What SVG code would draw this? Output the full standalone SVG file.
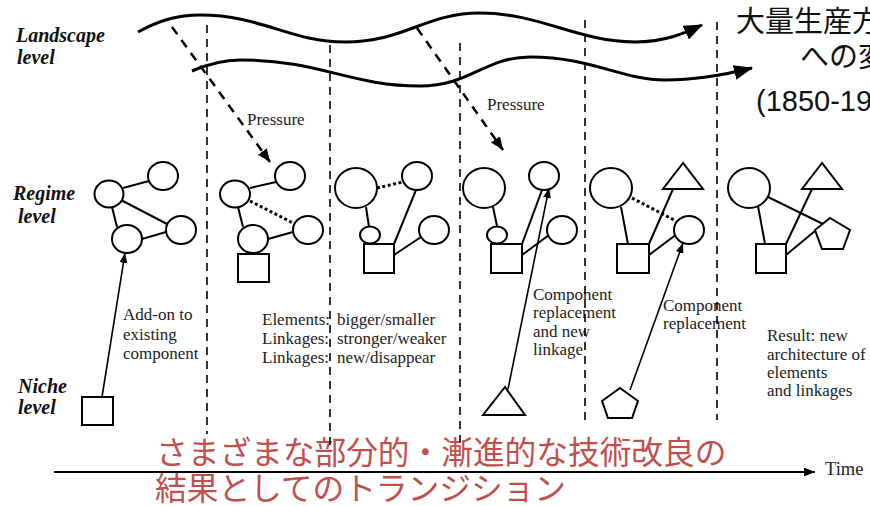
<svg xmlns="http://www.w3.org/2000/svg" width="870" height="506" viewBox="0 0 870 506">
<defs>
<marker id="wavehead" markerUnits="userSpaceOnUse" markerWidth="20" markerHeight="16" refX="18" refY="7.5" orient="auto"><path d="M0,0 L19,7.5 L0,15 z" fill="#000"/></marker>
<marker id="dashhead" markerUnits="userSpaceOnUse" markerWidth="14" markerHeight="12" refX="13" refY="5.5" orient="auto"><path d="M0,0 L13,5.5 L0,11 z" fill="#000"/></marker>
<marker id="smallhead" markerUnits="userSpaceOnUse" markerWidth="11" markerHeight="9" refX="10" refY="4" orient="auto"><path d="M0,0 L10,4 L0,8 z" fill="#000"/></marker>
<marker id="timehead" markerUnits="userSpaceOnUse" markerWidth="12" markerHeight="10" refX="11" refY="4.5" orient="auto"><path d="M0,0 L11,4.5 L0,9 z" fill="#000"/></marker>
</defs>
<style>
.lvl{font-family:"Liberation Serif",serif;font-weight:bold;font-style:italic;font-size:20px;fill:#111}
.lbl{font-family:"Liberation Serif",serif;font-size:17px;fill:#222}
.jp{font-family:"Noto Sans CJK JP",sans-serif;font-size:29px;fill:#111}
.num{font-family:"Liberation Sans","Noto Sans CJK JP",sans-serif;font-size:29px;fill:#111}
.red{font-family:"Noto Sans CJK JP",sans-serif;font-size:31.7px;fill:#c0504d}
.shape{fill:#fff;stroke:#000;stroke-width:2}
.link{stroke:#000;stroke-width:2;fill:none}
.dot{stroke:#000;stroke-width:3;stroke-dasharray:3,2.5;fill:none}
.wave{stroke:#000;stroke-width:3;fill:none}
.press{stroke:#000;stroke-width:2.5;stroke-dasharray:9,7;fill:none}
.vdash{stroke:#000;stroke-width:1.6;stroke-dasharray:8,6;fill:none}
.narrow{stroke:#000;stroke-width:1.6;fill:none}
</style>
<rect width="870" height="506" fill="#fff"/>

<g id="texts">
<text class="lvl" x="16" y="42">Landscape</text>
<text class="lvl" x="17" y="64">level</text>
<text class="lvl" x="13" y="200">Regime</text>
<text class="lvl" x="18" y="223">level</text>
<text class="lvl" x="18" y="393">Niche</text>
<text class="lvl" x="18" y="414">level</text>

<text class="lbl" x="247" y="125">Pressure</text>
<text class="lbl" x="487" y="110">Pressure</text>

<text class="lbl" x="123" y="320">Add-on to</text>
<text class="lbl" x="123" y="340">existing</text>
<text class="lbl" x="123" y="359">component</text>

<text class="lbl" x="262" y="325">Elements:<tspan x="337">bigger/smaller</tspan></text>
<text class="lbl" x="262" y="344">Linkages:<tspan x="337">stronger/weaker</tspan></text>
<text class="lbl" x="262" y="363">Linkages:<tspan x="337">new/disappear</tspan></text>

<text class="lbl" x="533" y="300">Component</text>
<text class="lbl" x="533" y="318">replacement</text>
<text class="lbl" x="533" y="337">and new</text>
<text class="lbl" x="533" y="355">linkage</text>

<text class="lbl" x="663" y="311">Component</text>
<text class="lbl" x="663" y="329">replacement</text>

<text class="lbl" x="767" y="341">Result: new</text>
<text class="lbl" x="767" y="360">architecture of</text>
<text class="lbl" x="767" y="378">elements</text>
<text class="lbl" x="767" y="396">and linkages</text>

<text class="lbl" x="825" y="475" style="font-size:18.5px">Time</text>

<text class="jp" x="736" y="32">大量生産方</text>
<text class="jp" x="800" y="67">への変</text>
<text class="num" x="756" y="111">(1850-19</text>

<text class="red" x="156" y="464">さまざまな部分的・漸進的な技術改良の</text>
<text class="red" x="155" y="500">結果としてのトランジション</text>
</g>

<g id="connectors">
<path class="wave" marker-end="url(#wavehead)" d="M138,32 C160,20 178,15 200,15 C262,15 290,42 345,42 C405,42 425,13 480,13 C540,13 578,42 635,42 C665,42 685,33 702,25"/>
<path class="wave" marker-end="url(#wavehead)" d="M192,71 C206,65 222,60 240,60 C320,60 350,86 420,86 C470,86 485,57 530,57 C592,57 622,80 665,80 C700,80 728,74 752,68"/>

<line class="press" x1="172" y1="27" x2="270" y2="162" marker-end="url(#dashhead)"/>
<line class="press" x1="417" y1="28" x2="503" y2="150" marker-end="url(#dashhead)"/>

<line class="vdash" x1="207" y1="25" x2="207" y2="434"/>
<line class="vdash" x1="330" y1="45" x2="330" y2="447"/>
<line class="vdash" x1="460" y1="43" x2="460" y2="442"/>
<line class="vdash" x1="585" y1="20" x2="585" y2="420"/>
<line class="vdash" x1="717" y1="22" x2="717" y2="420"/>

<line class="link" x1="54" y1="472" x2="815" y2="472" marker-end="url(#timehead)"/>

<!-- config 1 -->
<line class="link" x1="123" y1="188" x2="149" y2="181"/>
<line class="link" x1="121" y1="200" x2="167" y2="224"/>
<line class="link" x1="112" y1="207" x2="117" y2="227"/>
<line class="link" x1="142" y1="239" x2="166" y2="232"/>
<line class="narrow" x1="102" y1="397" x2="125" y2="253" marker-end="url(#smallhead)"/>
<!-- config 2 -->
<line class="link" x1="250" y1="188" x2="276" y2="182"/>
<line class="dot" x1="250" y1="201" x2="293" y2="223"/>
<line class="link" x1="238" y1="207" x2="243" y2="227"/>
<line class="link" x1="268" y1="239" x2="293" y2="232"/>
<!-- config 3 -->
<line class="dot" x1="377" y1="188" x2="403" y2="182"/>
<line class="link" x1="366" y1="207" x2="369" y2="227"/>
<line class="link" x1="394" y1="244" x2="416" y2="190"/>
<line class="link" x1="394" y1="255" x2="421" y2="237"/>
<!-- config 4 -->
<line class="link" x1="493" y1="207" x2="497" y2="226"/>
<line class="link" x1="522" y1="244" x2="542" y2="190"/>
<line class="link" x1="522" y1="255" x2="549" y2="235"/>
<line class="narrow" x1="508" y1="389" x2="549" y2="188" marker-end="url(#smallhead)"/>
<!-- config 5 -->
<line class="link" x1="621" y1="207" x2="628" y2="244"/>
<line class="dot" x1="632" y1="198" x2="676" y2="221"/>
<line class="link" x1="649" y1="244" x2="673" y2="189"/>
<line class="link" x1="649" y1="255" x2="677" y2="234"/>
<line class="narrow" x1="630" y1="390" x2="683" y2="243" marker-end="url(#smallhead)"/>
<!-- config 6 -->
<line class="link" x1="758" y1="206" x2="765" y2="244"/>
<line class="link" x1="768" y1="197" x2="823" y2="224"/>
<line class="link" x1="786" y1="244" x2="812" y2="189"/>
<line class="link" x1="786" y1="255" x2="815" y2="231"/>
</g>

<g id="n1a"><ellipse class="shape" cx="109" cy="194" rx="14.5" ry="13.5"/></g>
<g id="n1b"><ellipse class="shape" cx="163" cy="176" rx="15" ry="14"/></g>
<g id="n1c"><ellipse class="shape" cx="127" cy="239" rx="15" ry="14"/></g>
<g id="n1d"><ellipse class="shape" cx="181" cy="230" rx="15" ry="14"/></g>
<g id="niche1"><rect class="shape" x="82" y="397" width="31" height="28"/></g>

<g id="n2a"><ellipse class="shape" cx="235" cy="194" rx="15" ry="13.5"/></g>
<g id="n2b"><ellipse class="shape" cx="290" cy="176" rx="15" ry="14"/></g>
<g id="n2c"><ellipse class="shape" cx="253" cy="239" rx="15" ry="14"/></g>
<g id="n2d"><ellipse class="shape" cx="308" cy="230" rx="15" ry="14"/></g>
<g id="n2e"><rect class="shape" x="238" y="254" width="31" height="28"/></g>

<g id="n3a"><ellipse class="shape" cx="356" cy="188" rx="21" ry="20"/></g>
<g id="n3b"><ellipse class="shape" cx="417" cy="176" rx="15" ry="14"/></g>
<g id="n3c"><ellipse class="shape" cx="370" cy="235" rx="10" ry="8.5"/></g>
<g id="n3d"><ellipse class="shape" cx="434" cy="230" rx="15" ry="14"/></g>
<g id="n3e"><rect class="shape" x="364" y="244" width="30" height="29"/></g>

<g id="n4a"><ellipse class="shape" cx="484" cy="188" rx="21" ry="20"/></g>
<g id="n4b"><ellipse class="shape" cx="544" cy="176" rx="15" ry="14"/></g>
<g id="n4c"><ellipse class="shape" cx="497" cy="235" rx="10" ry="8.5"/></g>
<g id="n4d"><ellipse class="shape" cx="562" cy="230" rx="15" ry="14"/></g>
<g id="n4e"><rect class="shape" x="491" y="244" width="31" height="29"/></g>
<g id="niche4"><polygon class="shape" points="505,387 483,415 525,415"/></g>

<g id="n5a"><ellipse class="shape" cx="611" cy="188" rx="21" ry="20"/></g>
<g id="n5b"><polygon class="shape" points="683,163 663,189 703,189"/></g>
<g id="n5c"><ellipse class="shape" cx="689" cy="230" rx="15" ry="14"/></g>
<g id="n5d"><rect class="shape" x="617" y="244" width="32" height="29"/></g>
<g id="niche5"><polygon class="shape" points="620,388 638,401 632,418 608,418 602,401"/></g>

<g id="n6a"><ellipse class="shape" cx="749" cy="188" rx="21" ry="20"/></g>
<g id="n6b"><polygon class="shape" points="822,163 802,189 842,189"/></g>
<g id="n6c"><polygon class="shape" points="830,218 850,230 843,249 822,249 815,230"/></g>
<g id="n6d"><rect class="shape" x="756" y="244" width="30" height="29"/></g>
</svg>
